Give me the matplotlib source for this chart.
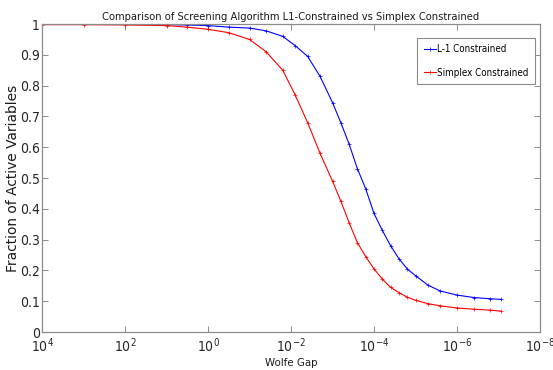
import matplotlib
matplotlib.use("Agg")
import matplotlib.pyplot as plt
from matplotlib.ticker import FixedLocator, FuncFormatter, NullLocator, LogFormatterSciNotation
from matplotlib import font_manager

# log10 of Wolfe gap
gap_exp = [4, 3, 2, 1, 0.5, 0, -0.5, -1, -1.4, -1.8, -2.1, -2.4, -2.7, -3.0, -3.2,
           -3.4, -3.6, -3.8, -4.0, -4.2, -4.4, -4.6, -4.8, -5.0, -5.3, -5.6, -6.0,
           -6.4, -6.8, -7.05]
l1_frac = [1.0, 1.0, 1.0, 0.998, 0.997, 0.995, 0.99, 0.987, 0.978, 0.96, 0.93, 0.895,
           0.83, 0.745, 0.68, 0.61, 0.53, 0.465, 0.385, 0.33, 0.28, 0.238, 0.205, 0.183,
           0.152, 0.133, 0.12, 0.112, 0.108, 0.106]
simplex_frac = [0.998, 0.998, 0.997, 0.995, 0.99, 0.983, 0.972, 0.95, 0.91, 0.85, 0.77,
                0.68, 0.58, 0.49, 0.425, 0.355, 0.29, 0.245, 0.205, 0.172, 0.145, 0.128,
                0.113, 0.103, 0.092, 0.085, 0.078, 0.074, 0.071, 0.068]
xtick_exp = [4, 2, 0, -2, -4, -6, -8]
ytick_vals = [0, 0.1, 0.2, 0.3, 0.4, 0.5, 0.6, 0.7, 0.8, 0.9, 1.0]

has_condensed = any(f.name == 'DejaVu Sans' and 'Condensed' in f.fname
                    for f in font_manager.fontManager.ttflist)
plt.rcParams['font.family'] = ['DejaVu Sans']
if has_condensed:
    plt.rcParams['font.stretch'] = 'condensed'
    scale = 1.0
else:
    scale = 0.85

gaps = [10.0 ** e for e in gap_exp]

fig = plt.figure(figsize=(5.53, 3.70), dpi=100)
ax = fig.add_axes([0.076, 0.1027, 0.9005, 0.8323])

ax.plot(gaps, l1_frac, color='#0000ff', lw=0.8, marker='+', ms=2.2, mew=0.5,
        label='L-1 Constrained')
ax.plot(gaps, simplex_frac, color='#ff0000', lw=0.8, marker='+', ms=2.2, mew=0.5,
        label='Simplex Constrained')

ax.set_xscale('log')
ax.set_xlim(1e4, 1e-8)
ax.set_ylim(0, 1)
ax.xaxis.set_major_locator(FixedLocator([10.0 ** e for e in xtick_exp]))
ax.xaxis.set_minor_locator(NullLocator())
ax.xaxis.set_major_formatter(LogFormatterSciNotation())
ax.yaxis.set_major_locator(FixedLocator(ytick_vals))
ax.yaxis.set_major_formatter(FuncFormatter(lambda v, p: '%g' % v))

gray = '#8c8c8c'
for s in ax.spines.values():
    s.set_color(gray)
    s.set_linewidth(0.9)
ax.tick_params(direction='in', length=4, width=0.7, color=gray, labelcolor='#262626',
               labelsize=10 * scale, top=True, right=True)
ax.tick_params(axis='x', pad=3)
ax.tick_params(axis='y', pad=1.5)

ax.set_title('Comparison of Screening Algorithm L1-Constrained vs Simplex Constrained',
             fontsize=8.0 * scale, color='#1a1a1a', pad=3)
ax.set_xlabel('Wolfe Gap', fontsize=8.2 * scale, color='#1a1a1a', labelpad=2)
ax.set_ylabel('Fraction of Active Variables', fontsize=9.9, color='#1a1a1a',
              fontstretch='normal', labelpad=0)

leg = ax.legend(loc='upper right', bbox_to_anchor=(0.99, 0.9545), fontsize=7.0 * scale,
                fancybox=False, edgecolor=gray, framealpha=1, handlelength=1.3,
                borderpad=0.65, labelspacing=1.35, handletextpad=0.1, borderaxespad=0)
leg.get_frame().set_linewidth(0.8)

fig.savefig('out.png', dpi=100)
